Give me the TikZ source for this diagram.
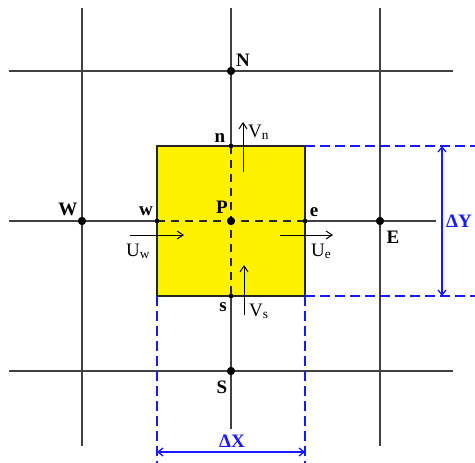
\documentclass[tikz,border=0pt]{standalone}
\usepackage{fontspec}
\setmainfont{Liberation Serif}
\usetikzlibrary{arrows.meta}
\begin{document}
\begin{tikzpicture}[x=1pt,y=-1pt,
  gridline/.style={draw=black!75, line width=1.3pt},
  boxborder/.style={draw=black!85, line width=1.2pt},
  innerdash/.style={draw=black!85, line width=1.1pt, dash pattern=on 8pt off 6pt},
  bigdot/.style={circle,fill=black,inner sep=0pt,minimum size=8pt},
  smalldot/.style={circle,fill=black,inner sep=0pt,minimum size=4.5pt},
  lbl/.style={font=\fontsize{19}{22}\selectfont\bfseries, inner sep=0pt},
  vel/.style={font=\fontsize{19}{22}\selectfont, inner sep=0pt},
  flow/.style={-{Straight Barb[length=6pt,width=8pt]}, line width=1pt},
  dimline/.style={draw=blue!90!white, line width=1.4pt, dash pattern=on 10pt off 5pt},
  dimarrow/.style={draw=blue!90!white, line width=1.3pt, {Straight Barb[length=5pt,width=8pt]}-{Straight Barb[length=5pt,width=8pt]}},
  dimlbl/.style={text=blue!90!white, font=\fontsize{19}{22}\selectfont\bfseries, inner sep=0pt}
]
\useasboundingbox[fill=white] (0,0) rectangle (475,463);

% control volume corners
\coordinate (tl) at (157,146);
\coordinate (tr) at (305,146);
\coordinate (bl) at (157,296);
\coordinate (br) at (305,296);

\fill[yellow] (tl) rectangle (br);

% grid ends
\coordinate (h1l) at (9,71);   \coordinate (h1r) at (453,71);
\coordinate (h2l) at (9,221);  \coordinate (h2r) at (436,221);
\coordinate (h3l) at (9,371);  \coordinate (h3r) at (453,371);
\coordinate (v1t) at (82,8);   \coordinate (v1b) at (82,446);
\coordinate (v2t) at (231,8);  \coordinate (v2b) at (231,429);
\coordinate (v3t) at (380,8);  \coordinate (v3b) at (380,446);

% nodes (points)
\node[bigdot] (N) at (231,71) {};
\node[bigdot] (W) at (82,221) {};
\node[bigdot] (P) at (231,221) {};
\node[bigdot] (E) at (380,221) {};
\node[bigdot] (S) at (231,371) {};
\node[smalldot] (n) at (231,146) {};
\node[smalldot] (s) at (231,296) {};
\node[smalldot] (w) at (157,221) {};
\node[smalldot] (e) at (305,221) {};

% grid lines
\draw[gridline] (h1l) -- (h1r);
\draw[gridline] (h3l) -- (h3r);
\draw[gridline] (h2l) -- (w.center);
\draw[gridline] (e.center) -- (h2r);
\draw[gridline] (v1t) -- (v1b);
\draw[gridline] (v3t) -- (v3b);
\draw[gridline] (v2t) -- (n.center);
\draw[gridline] (s.center) -- (v2b);

% box border and inner dashed lines
\draw[boxborder] (tl) rectangle (br);
\draw[innerdash] (w.center) -- (e.center);
\draw[innerdash] (n.center) -- (s.center);

% redraw dots on top
\fill (N) circle (4pt);
\fill (W) circle (4pt);
\fill (P) circle (4pt);
\fill (E) circle (4pt);
\fill (S) circle (4pt);
\fill (n) circle (2.2pt);
\fill (s) circle (2.2pt);
\fill (w) circle (2.2pt);
\fill (e) circle (2.2pt);

% blue dimension lines
\coordinate (tre) at (475,146);
\coordinate (bre) at (475,296);
\coordinate (ble) at (157,463);
\coordinate (brb) at (305,463);
\draw[dimline] (tr) -- (tre);
\draw[dimline] (br) -- (bre);
\draw[dimline] (bl) -- (ble);
\draw[dimline] (br) -- (brb);
\coordinate (dyt) at (442,146);
\coordinate (dyb) at (442,296);
\coordinate (dxl) at (157,452);
\coordinate (dxr) at (305,452);
\draw[dimarrow] (dyt) -- (dyb);
\draw[dimarrow] (dxl) -- (dxr);
\node[dimlbl] (DY) at (459,221) {ΔY};
\node[dimlbl] (DX) at (232,441) {ΔX};

% labels
\node[lbl] (lN) at (243,60) {N};
\node[lbl] (ln) at (220,138) {n};
\node[lbl] (lW) at (68,209) {W};
\node[lbl] (lw) at (146,211) {w};
\node[lbl] (lP) at (222,207) {P};
\node[lbl] (le) at (314,212) {e};
\node[lbl] (lE) at (393,237) {E};
\node[lbl] (ls) at (223,307) {s};
\node[lbl] (lS) at (222,387) {S};

% velocity arrows
\coordinate (vn0) at (243,172); \coordinate (vn1) at (243,122);
\coordinate (vs0) at (244,315); \coordinate (vs1) at (244,265);
\coordinate (uw0) at (130,235); \coordinate (uw1) at (184,235);
\coordinate (ue0) at (280,235); \coordinate (ue1) at (333,235);
\draw[flow] (vn0) -- (vn1);
\draw[flow] (vs0) -- (vs1);
\draw[flow] (uw0) -- (uw1);
\draw[flow] (ue0) -- (ue1);
\node[vel, anchor=base west] (lVn) at (248,137) {V\textsubscript{n}};
\node[vel, anchor=base west] (lVs) at (249,316) {V\textsubscript{s}};
\node[vel, anchor=base west] (lUw) at (126,256) {U\textsubscript{w}};
\node[vel, anchor=base west] (lUe) at (311,256) {U\textsubscript{e}};
\end{tikzpicture}
\end{document}
